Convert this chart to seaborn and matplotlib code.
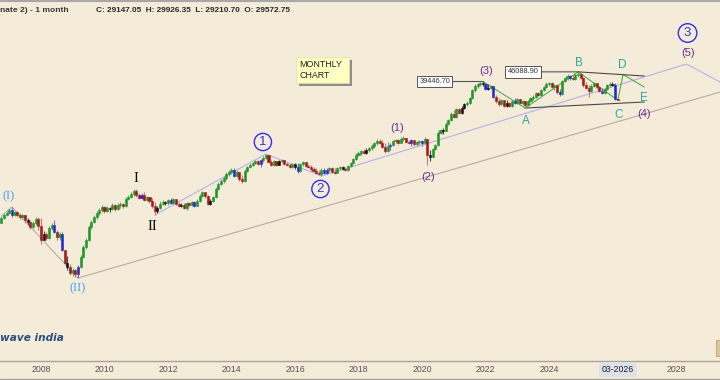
import numpy as np
import pandas as pd
import matplotlib
matplotlib.use("Agg")
import matplotlib.pyplot as plt
import seaborn as sns
from matplotlib.patches import Rectangle
from matplotlib.lines import Line2D
from matplotlib.ticker import NullLocator

# ---------------- data (monthly candles, 2006-10 .. 2026-03) ----------------
first_open = 4026.0
close = [
    4364, 4580, 4732, 4966, 4580, 4809, 4580, 4435, 4580, 4225, 4091, 3773, 4026, 4294, 3835,
    3061, 3373, 3160, 3713, 3897, 3484, 3212, 3373, 2604, 2112, 1978, 1797, 1886, 1768, 1978,
    2326, 2734, 3061, 3773, 4091, 4435, 4732, 4966, 5210, 4887, 5127, 5045, 5381, 5045, 5381,
    5469, 5295, 5928, 6122, 6428, 6746, 6323, 6024, 6323, 5834, 6122, 5741, 5295, 4887, 5127,
    5469, 5649, 5559, 5834, 5559, 5928, 5469, 5295, 5381, 5127, 5559, 5381, 5649, 5295, 5741,
    6222, 6639, 6222, 5469, 5741, 6122, 6968, 7551, 7926, 8318, 8872, 9163, 9463, 8590, 9163,
    8184, 7926, 9312, 9935, 10260, 10600, 10940, 10430, 11120, 11490, 12060, 10770, 10260, 10940, 10260,
    10940, 11120, 10430, 10260, 9935, 10430, 9935, 9312, 10430, 10770, 10100, 9935, 9619, 9312, 9016,
    8872, 9463, 9016, 9463, 9776, 9163, 9016, 9776, 9935, 9619, 9463, 10100, 10600, 11300, 12060,
    12450, 12860, 12450, 13070, 13500, 13940, 14630, 15110, 14630, 13720, 12860, 13940, 14170, 15110, 15360,
    14630, 15600, 15860, 14870, 14630, 15360, 14400, 14870, 15110, 14630, 15600, 12060, 11670, 13280, 14170,
    17190, 18040, 17750, 19870, 21200, 23350, 22250, 25320, 23740, 25730, 27440, 27890, 30230, 34390, 36690,
    37890, 38510, 37890, 34950, 35520, 36690, 30720, 28800, 27440, 29270, 26570, 27890, 26570, 28800, 27890,
    29750, 27890, 28800, 27000, 28800, 30230, 30720, 32770, 31730, 34390, 36100, 37890, 38510, 36100, 37280,
    33300, 32250, 39770, 41740, 43110, 41740, 41070, 43810, 44520, 41740, 37280, 35520, 33840, 36690, 38510,
    36100, 33840, 32770, 34950, 37280, 37890, 37280, 29572.75, 29147.05,
]
high = [
    4507, 4732, 4887, 5127, 5210, 4887, 4887, 4732, 4656, 4580, 4364, 4225, 4157, 4435, 4435,
    4364, 3540, 3484, 3835, 4026, 4225, 3598, 3484, 3484, 2604, 2364, 2078, 1946, 1915, 2043,
    2402, 2824, 3160, 3897, 4225, 4580, 4887, 5127, 5381, 5295, 5295, 5210, 5559, 5469, 5559,
    5649, 5559, 6122, 6323, 6639, 6968, 6968, 6532, 6532, 6639, 6222, 6122, 6024, 5649, 5295,
    5741, 5834, 5741, 5928, 6024, 6024, 5928, 5649, 5559, 5559, 5649, 5649, 5741, 5741, 5928,
    6428, 6746, 6639, 6323, 5928, 6222, 7196, 7800, 8184, 8590, 9163, 9463, 9776, 9776, 9463,
    9163, 8730, 9619, 10100, 10600, 10770, 11120, 11120, 11300, 11860, 12250, 12060, 11120, 11120, 10940,
    11120, 11300, 11120, 10770, 10600, 10600, 10600, 10600, 10600, 10940, 10770, 10430, 10260, 9935, 9776,
    9463, 9776, 9776, 9776, 9935, 9935, 9776, 9935, 10100, 10100, 9935, 10260, 10770, 11490, 12450,
    12860, 13070, 13280, 13500, 13720, 14400, 14870, 15600, 15600, 15360, 14630, 14870, 14630, 15360, 15600,
    15600, 16120, 16380, 15860, 15360, 15600, 15360, 15110, 15360, 15360, 16120, 15600, 13070, 13500, 14400,
    17750, 18340, 18640, 20530, 21550, 24120, 24910, 25730, 25730, 26570, 27890, 28800, 30720, 34950, 37890,
    38510, 39130, 39446.70, 38510, 37890, 37280, 36690, 31730, 30230, 29750, 29270, 29270, 28340, 29270, 30230,
    30230, 29750, 29270, 28800, 29270, 30720, 31730, 33300, 33300, 34950, 36690, 39130, 39130, 39130, 37890,
    37280, 34950, 40410, 42420, 44520, 43810, 43810, 45250, 46088.90, 45250, 42420, 39130, 37280, 37890, 39130,
    38510, 36690, 35520, 35520, 37890, 39130, 39130, 38510, 29926.35,
]
low = [
    4026, 4294, 4507, 4656, 4435, 4507, 4435, 4294, 4294, 4026, 3897, 3653, 3713, 3897, 3598,
    2870, 3160, 3061, 3110, 3598, 3428, 3061, 3061, 2562, 2078, 1886, 1740, 1712, 1685, 1658,
    1946, 2289, 2648, 3012, 3653, 4026, 4294, 4580, 4809, 4732, 4809, 4809, 4966, 4887, 4966,
    5127, 5127, 5210, 5834, 6024, 6222, 6122, 5928, 5928, 5741, 5741, 5559, 5127, 4580, 4732,
    5045, 5381, 5381, 5381, 5469, 5469, 5381, 5210, 5210, 5045, 4966, 5295, 5295, 5210, 5295,
    5649, 6122, 6024, 5381, 5381, 5649, 6024, 6856, 7432, 7675, 8055, 8590, 8872, 8453, 8453,
    7926, 7675, 7800, 9163, 9776, 10100, 10430, 10260, 9935, 10770, 11300, 10600, 10100, 10100, 10100,
    10260, 10600, 10260, 10100, 9776, 9776, 9619, 9016, 9163, 10100, 9935, 9776, 9312, 9163, 8872,
    8730, 8590, 8872, 8872, 9163, 9016, 8872, 9016, 9463, 9463, 9312, 9312, 9935, 10430, 11120,
    11860, 12060, 12250, 12250, 12660, 13070, 13500, 14170, 14400, 13500, 12450, 12660, 13070, 13940, 14630,
    14400, 14630, 15110, 14630, 14400, 13940, 13940, 13940, 14170, 13940, 14400, 10260, 10940, 11670, 13070,
    13940, 16920, 16920, 17750, 19560, 20860, 21900, 21900, 23350, 23350, 25320, 26570, 27440, 29750, 33300,
    35520, 36690, 36690, 34390, 34390, 34950, 30230, 27890, 26570, 27000, 26150, 26150, 26150, 26150, 27440,
    27440, 27440, 27000, 25730, 26570, 28340, 29270, 30230, 31220, 31220, 33840, 35520, 36690, 35520, 34390,
    32250, 31220, 31730, 39130, 40410, 40410, 40410, 40410, 42420, 41070, 36100, 34950, 30720, 33300, 36100,
    34950, 33300, 32250, 32250, 34390, 36100, 36690, 29480, 29210.70,
]
# candle colour class: g = up, r = down, b = blue bar, k = black bar
bar_type = ("ggggbgrrgrkrggr" "rkrggbrgbrkrgrb" "gggggggggrgkgrg" "grggggrrbrgrrrk"
            "ggkgbgrrkrgrgbg" "ggrrkggggggggbg" "rrgggggrbggrrgr" "kgrrrgkbggrrrrr"
            "rgbbgrrggkrgggg" "ggrkggggrrrgbgg" "rggrrbrggbgrkgg" "ggkgggrgrkkgggg"
            "ggkbkgbrrgrkrgb" "grgrggggrggggrg" "rbgggbrggrrrrgg" "rrbgggkbr")
start_month = "2006-10-01"

# wave labels at their pivots
wave_labels = ["(I)", "(II)", "I", "II", "1", "2", "(1)", "(2)", "(3)",
               "A", "B", "C", "D", "E", "(4)", "(5)", "3"]
wave_dates = ["2007-02", "2009-03", "2011-01", "2011-08", "2015-02", "2016-11", "2019-05",
              "2020-03", "2021-12", "2023-04", "2024-12", "2026-03", "2026-05", "2027-01",
              "2027-01", "2028-05", "2028-05"]
wave_prices = [5210, 1658, 6968, 4580, 12250, 8590, 16120, 10260, 39446.70,
               25730, 46088.90, 29147.05, 44160, 36100, 36100, 52310, 52310]

# wave / trend lines (date, price)
lav1_dates, lav1_prices = ["2006-10", "2007-02"], [4507, 5210]
lav2_dates = ["2011-08", "2015-02", "2016-11", "2028-05", "2029-07"]
lav2_prices = [4580, 12250, 8590, 52310, 37890]
gray1_dates, gray1_prices = ["2007-02", "2009-03"], [5210, 1658]
gray2_dates, gray2_prices = ["2009-03", "2029-07"], [1658, 33840]
green_dates = ["2021-12", "2023-04", "2024-12", "2026-03", "2026-05", "2027-01"]
green_prices = [39446.70, 25730, 46088.90, 29147.05, 44160, 36100]
tri_up_dates, tri_up_prices = ["2024-12", "2027-01"], [46088.90, 43110]
tri_lo_dates, tri_lo_prices = ["2023-04", "2027-01"], [25730, 28340]

price_tags = [("39446.70", "2021-12", 39446.70), ("46088.90", "2024-12", 46088.90)]
year_ticks = [2008, 2010, 2012, 2014, 2016, 2018, 2020, 2022, 2024, 2028]
cursor_label = "03-2026"
header_left = "nate 2) - 1 month"
header_ohlc = "C: 29147.05  H: 29926.35  L: 29210.70  O: 29572.75"

# ---------------- styling ----------------
sns.set_theme(style="white")
plt.rcParams["font.family"] = ["Liberation Sans", "DejaVu Sans"]

BG = "#f4ebd9"
W, H = 720, 380


def tnum(s):
    ts = pd.Timestamp(s)
    return ts.year + (ts.month - 1) / 12.0


fig = plt.figure(figsize=(7.2, 3.8), dpi=100, facecolor=BG)
ax = fig.add_axes([0, 19 / H, 1, 361 / H])
ax.set_facecolor(BG)
ax.set_yscale("log")

months = pd.date_range(start_month, periods=len(close), freq="MS")
t = np.array(months.year + (months.month - 1) / 12.0, dtype=float)
c = np.array(close, dtype=float)
o = np.concatenate([[first_open], c[:-1]])
hi = np.array(high, dtype=float)
lo = np.array(low, dtype=float)

body_col = {"g": "#23922b", "r": "#9e1b18", "b": "#2529cc", "k": "#111111"}
wick_col = {"g": "#5cb25c", "r": "#c47c78", "b": "#6f6fdc", "k": "#4a4a4a"}
bc = [body_col[k] for k in bar_type]
wc = [wick_col[k] for k in bar_type]


def draw_line(dates, prices, color, lw):
    df = pd.DataFrame({"t": [tnum(d) for d in dates], "p": prices})
    sns.lineplot(data=df, x="t", y="p", ax=ax, color=color, linewidth=lw,
                 sort=False, estimator=None, zorder=1)


draw_line(lav1_dates, lav1_prices, "#b3b3ea", 0.8)
draw_line(lav2_dates, lav2_prices, "#b3b3ea", 0.8)
draw_line(gray1_dates, gray1_prices, "#b7ada0", 0.8)
draw_line(gray2_dates, gray2_prices, "#b7ada0", 0.8)
draw_line(green_dates, green_prices, "#4fae4f", 0.8)
draw_line(tri_up_dates, tri_up_prices, "#4a4a4a", 0.8)
draw_line(tri_lo_dates, tri_lo_prices, "#4a4a4a", 0.8)

# candles
ax.vlines(t, lo, hi, colors=wc, linewidth=0.8, zorder=3)
ax.bar(t, np.abs(c - o), bottom=np.minimum(o, c), width=0.066, color=bc,
       edgecolor=bc, linewidth=0.4, zorder=4)

# price tags
tag_dx = {"39446.70": -48, "46088.90": -55}
for txt, d, p in price_tags:
    ax.annotate(txt, xy=(tnum(d), p), xytext=(tag_dx[txt], 0), textcoords="offset pixels",
                ha="center", va="center", fontsize=5.3, color="#333333", zorder=6,
                bbox=dict(boxstyle="square,pad=0.3", fc="white", ec="#555555", lw=0.7),
                arrowprops=dict(arrowstyle="-", color="#555555", lw=0.8,
                                shrinkA=0, shrinkB=0))

# wave labels
offsets = {"(I)": (-3, -11), "(II)": (0, 10), "I": (0, -10), "II": (-2, 11),
           "1": (-3, -12), "2": (-1, 13), "(1)": (-4, -9), "(2)": (1, 12),
           "(3)": (3, -10), "A": (1, 13), "B": (1, -9), "C": (1, 15), "D": (-1, -10),
           "E": (0, 11), "(4)": (0, 27), "(5)": (1, -11), "3": (1, -31)}
for lab, d, p in zip(wave_labels, wave_dates, wave_prices):
    dx, dy = offsets[lab]
    kw = dict(ha="center", va="center", zorder=6)
    if lab in ("(I)", "(II)"):
        kw.update(color="#45a5f0", fontsize=9, family="Liberation Serif")
    elif lab in ("I", "II"):
        kw.update(color="#111111", fontsize=10.5, family="Liberation Serif")
    elif lab in ("1", "2", "3"):
        pad = 0.25 if lab == "3" else 0.2
        kw.update(color="#3030ee", fontsize=9.5,
                  bbox=dict(boxstyle=f"circle,pad={pad}", fc="none", ec="#3030ee", lw=1.0))
    elif lab.startswith("("):
        kw.update(color="#6b2f92", fontsize=8)
    else:
        kw.update(color="#2ea7a0", fontsize=8.5)
    ax.annotate(lab, xy=(tnum(d), p), xytext=(dx, -dy), textcoords="offset pixels", **kw)

# axes cosmetics
ax.set_xlim(2006.709, 2029.386)
ax.set_ylim(434.7, 146853)
ax.set_xlabel("")
ax.set_ylabel("")
ax.yaxis.set_major_locator(NullLocator())
ax.yaxis.set_minor_locator(NullLocator())
ax.set_xticks(year_ticks)
ax.set_xticklabels([str(y) for y in year_ticks])
ax.tick_params(axis="x", length=0, pad=3.2, labelsize=6.3, labelcolor="#555555")
ax.tick_params(axis="y", left=False, labelleft=False)
for s in ("top", "left", "right"):
    ax.spines[s].set_visible(False)
ax.spines["bottom"].set_color("#a9a49a")
ax.spines["bottom"].set_linewidth(1.0)
if ax.get_legend():
    ax.get_legend().remove()

ax.text(tnum("2026-03"), -8.5 / 361, cursor_label, transform=ax.get_xaxis_transform(),
        ha="center", va="center", fontsize=6.3, color="#222222", clip_on=False,
        bbox=dict(boxstyle="square,pad=0.3", fc="#dde2ea", ec="none"))

# header texts
fig.text(0.5 / W, 1 - 11 / H, header_left, fontsize=6.1, fontweight="bold",
         color="#3a3a3a", ha="left", va="center")
fig.text(96 / W, 1 - 10.5 / H, header_ohlc, fontsize=5.95, fontweight="bold",
         color="#2a2a2a", ha="left", va="center")
fig.add_artist(Line2D([0, 1], [1 - 0.6 / H, 1 - 0.6 / H], color="#a8a8a8", lw=1.5))

# monthly chart note
fig.add_artist(Rectangle((299 / W, 1 - 86 / H), 53 / W, 26 / H, fc="#8e8e8e", ec="none"))
fig.add_artist(Rectangle((296 / W, 1 - 83 / H), 53 / W, 26 / H, fc="#ffffc4",
                         ec="#e8e0a0", lw=0.5))
fig.text(299 / W, 1 - 70 / H, "MONTHLY\nCHART", fontsize=6.4, color="#222222",
         ha="left", va="center", linespacing=1.15)

# logo and frame bits
fig.text(0, 1 - 338 / H, "wave india", fontsize=7.6, fontweight="bold", style="italic",
         color="#2c4f80", ha="left", va="center", family=["DejaVu Sans"])
fig.add_artist(Rectangle((716 / W, 1 - 356 / H), 6 / W, 16 / H, fc="#d9c7a2",
                         ec="#b8a27a", lw=0.6))
fig.add_artist(Line2D([0, 1], [1 / H, 1 / H], color="#a9a49a", lw=1.0))

fig.savefig("out.png", dpi=100, facecolor=BG)
